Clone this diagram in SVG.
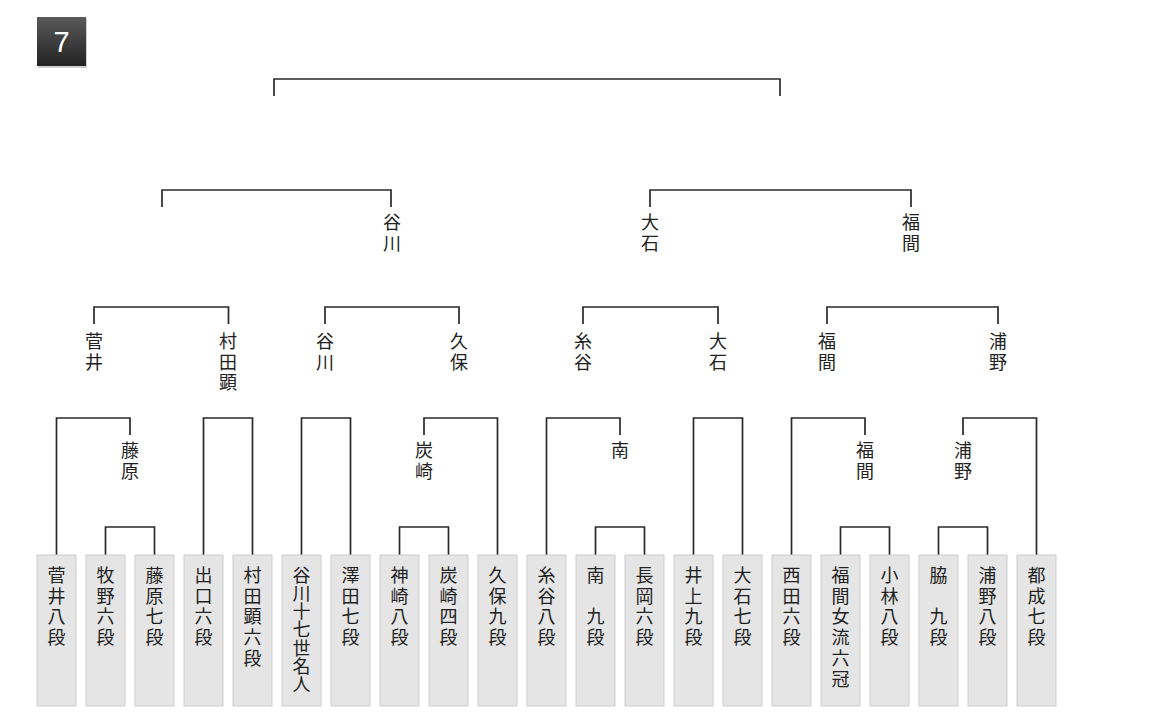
<svg xmlns="http://www.w3.org/2000/svg" width="1170" height="718" viewBox="0 0 1170 718">
<defs>
<linearGradient id="bg" x1="0" y1="0" x2="0" y2="1">
<stop offset="0" stop-color="#5a5a5a"/>
<stop offset="1" stop-color="#222"/>
</linearGradient>
<style>
.ln{fill:none;stroke:#2a2a2a;stroke-width:1.7}
.bx{fill:#e5e5e5;stroke:#cdcdcd;stroke-width:1}
.vt{font-family:"Noto Sans CJK JP","Noto Sans CJK SC",sans-serif;font-size:18px;fill:#222;writing-mode:vertical-rl;letter-spacing:2.8px}
.tight{letter-spacing:0.2px}
</style>
</defs>
<rect width="1170" height="718" fill="#fff"/>
<g id="badge">
<rect x="38" y="18" width="49" height="50" fill="#cfcfcf"/>
<rect x="37" y="17" width="49" height="49" fill="url(#bg)"/>
<text x="61.5" y="52" font-family="Liberation Sans, Arial, sans-serif" font-size="29" fill="#fff" text-anchor="middle">7</text>
</g>
<g id="connectors">
<path class="ln" d="M274,96 V79 H780 V96"/>
<path class="ln" d="M162,207 V190 H391 V207"/>
<path class="ln" d="M650,207 V190 H911 V207"/>
<path class="ln" d="M94,324 V307 H228.5 V324"/>
<path class="ln" d="M325,324 V307 H459 V324"/>
<path class="ln" d="M583,324 V307 H718 V324"/>
<path class="ln" d="M827,324 V307 H998 V324"/>
<path class="ln" d="M56.5,555 V418 H130 V435"/>
<path class="ln" d="M203.5,555 V418 H252.5 V555"/>
<path class="ln" d="M301.5,555 V418 H350.5 V555"/>
<path class="ln" d="M424,435 V418 H497.5 V555"/>
<path class="ln" d="M546.5,555 V418 H620 V435"/>
<path class="ln" d="M693.5,555 V418 H742.5 V555"/>
<path class="ln" d="M791.5,555 V418 H865 V435"/>
<path class="ln" d="M963,435 V418 H1036.5 V555"/>
<path class="ln" d="M105.5,555 V527 H154.5 V555"/>
<path class="ln" d="M399.5,555 V527 H448.5 V555"/>
<path class="ln" d="M595.5,555 V527 H644.5 V555"/>
<path class="ln" d="M840.5,555 V527 H889.5 V555"/>
<path class="ln" d="M938.5,555 V527 H987.5 V555"/>
</g>
<g id="labels">
<text class="vt" x="392" y="213">谷川</text>
<text class="vt" x="650" y="213">大石</text>
<text class="vt" x="911" y="213">福間</text>
<text class="vt" x="94" y="332">菅井</text>
<text class="vt" x="228" y="332">村田顕</text>
<text class="vt" x="325" y="332">谷川</text>
<text class="vt" x="459" y="332">久保</text>
<text class="vt" x="583" y="332">糸谷</text>
<text class="vt" x="718" y="332">大石</text>
<text class="vt" x="827" y="332">福間</text>
<text class="vt" x="998" y="332">浦野</text>
<text class="vt" x="130" y="441">藤原</text>
<text class="vt" x="424" y="441">炭崎</text>
<text class="vt" x="620" y="441">南</text>
<text class="vt" x="865" y="441">福間</text>
<text class="vt" x="963" y="441">浦野</text>
</g>
<g id="p0"><rect class="bx" x="37" y="555" width="39" height="151"/><text class="vt" x="56.5" y="566">菅井八段</text></g>
<g id="p1"><rect class="bx" x="86" y="555" width="39" height="151"/><text class="vt" x="105.5" y="566">牧野六段</text></g>
<g id="p2"><rect class="bx" x="135" y="555" width="39" height="151"/><text class="vt" x="154.5" y="566">藤原七段</text></g>
<g id="p3"><rect class="bx" x="184" y="555" width="39" height="151"/><text class="vt" x="203.5" y="566">出口六段</text></g>
<g id="p4"><rect class="bx" x="233" y="555" width="39" height="151"/><text class="vt" x="252.5" y="566">村田顕六段</text></g>
<g id="p5"><rect class="bx" x="282" y="555" width="39" height="151"/><text class="vt tight" x="301.5" y="566">谷川十七世名人</text></g>
<g id="p6"><rect class="bx" x="331" y="555" width="39" height="151"/><text class="vt" x="350.5" y="566">澤田七段</text></g>
<g id="p7"><rect class="bx" x="380" y="555" width="39" height="151"/><text class="vt" x="399.5" y="566">神崎八段</text></g>
<g id="p8"><rect class="bx" x="429" y="555" width="39" height="151"/><text class="vt" x="448.5" y="566">炭崎四段</text></g>
<g id="p9"><rect class="bx" x="478" y="555" width="39" height="151"/><text class="vt" x="497.5" y="566">久保九段</text></g>
<g id="p10"><rect class="bx" x="527" y="555" width="39" height="151"/><text class="vt" x="546.5" y="566">糸谷八段</text></g>
<g id="p11"><rect class="bx" x="576" y="555" width="39" height="151"/><text class="vt" x="595.5" y="566">南　九段</text></g>
<g id="p12"><rect class="bx" x="625" y="555" width="39" height="151"/><text class="vt" x="644.5" y="566">長岡六段</text></g>
<g id="p13"><rect class="bx" x="674" y="555" width="39" height="151"/><text class="vt" x="693.5" y="566">井上九段</text></g>
<g id="p14"><rect class="bx" x="723" y="555" width="39" height="151"/><text class="vt" x="742.5" y="566">大石七段</text></g>
<g id="p15"><rect class="bx" x="772" y="555" width="39" height="151"/><text class="vt" x="791.5" y="566">西田六段</text></g>
<g id="p16"><rect class="bx" x="821" y="555" width="39" height="151"/><text class="vt" x="840.5" y="566">福間女流六冠</text></g>
<g id="p17"><rect class="bx" x="870" y="555" width="39" height="151"/><text class="vt" x="889.5" y="566">小林八段</text></g>
<g id="p18"><rect class="bx" x="919" y="555" width="39" height="151"/><text class="vt" x="938.5" y="566">脇　九段</text></g>
<g id="p19"><rect class="bx" x="968" y="555" width="39" height="151"/><text class="vt" x="987.5" y="566">浦野八段</text></g>
<g id="p20"><rect class="bx" x="1017" y="555" width="39" height="151"/><text class="vt" x="1036.5" y="566">都成七段</text></g>
</svg>
